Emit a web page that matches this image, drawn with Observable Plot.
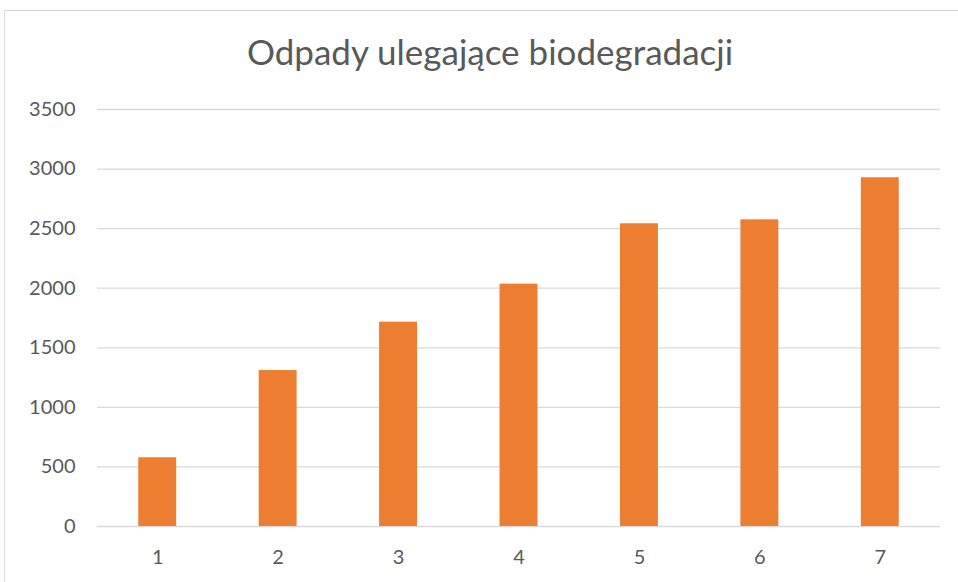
<!DOCTYPE html>
<html><head><meta charset="utf-8">
<script src="https://cdn.jsdelivr.net/npm/d3@7"></script>
<script src="https://cdn.jsdelivr.net/npm/@observablehq/plot@0.6"></script>
<style>
body{margin:0;background:#fff;overflow:hidden;}
#frame{position:absolute;left:4px;top:10px;width:1100px;height:700px;border:1px solid #d9d9d9;}
#title{position:absolute;left:0;width:980px;top:30px;text-align:center;font-family:Lato,sans-serif;font-size:35px;color:#595959;white-space:nowrap;}
#chart{position:absolute;left:0;top:0;}
</style></head><body>
<div id="frame"></div>
<div id="title">Odpady ulegające biodegradacji</div>
<div id="chart"></div>
<script>
const categories = ["1","2","3","4","5","6","7"];
const values = [577, 1309, 1715, 2034, 2541, 2574, 2927];
const yTicks = [0,500,1000,1500,2000,2500,3000,3500];
const data = categories.map((c,i)=>({cat:c, v:values[i]}));
const chart = Plot.plot({
  width:958, height:582,
  marginLeft:97, marginRight:18, marginTop:109, marginBottom:56,
  style:{fontFamily:"Lato, sans-serif", fontSize:"20px", color:"#595959", background:"transparent"},
  x:{domain:categories, paddingInner:0.685, paddingOuter:0.3425, round:false, label:null, tickSize:0, tickPadding:23},
  y:{domain:[0,3500], ticks:yTicks, label:null, tickSize:0, tickPadding:22, tickFormat:d=>String(d)},
  marks:[
    Plot.gridY(yTicks,{stroke:"#d9d9d9", strokeOpacity:1, strokeWidth:1.3}),
    Plot.barY(data,{x:"cat", y:"v", fill:"#ED7D31"})
  ]
});
document.getElementById("chart").appendChild(chart);
</script>
</body></html>
